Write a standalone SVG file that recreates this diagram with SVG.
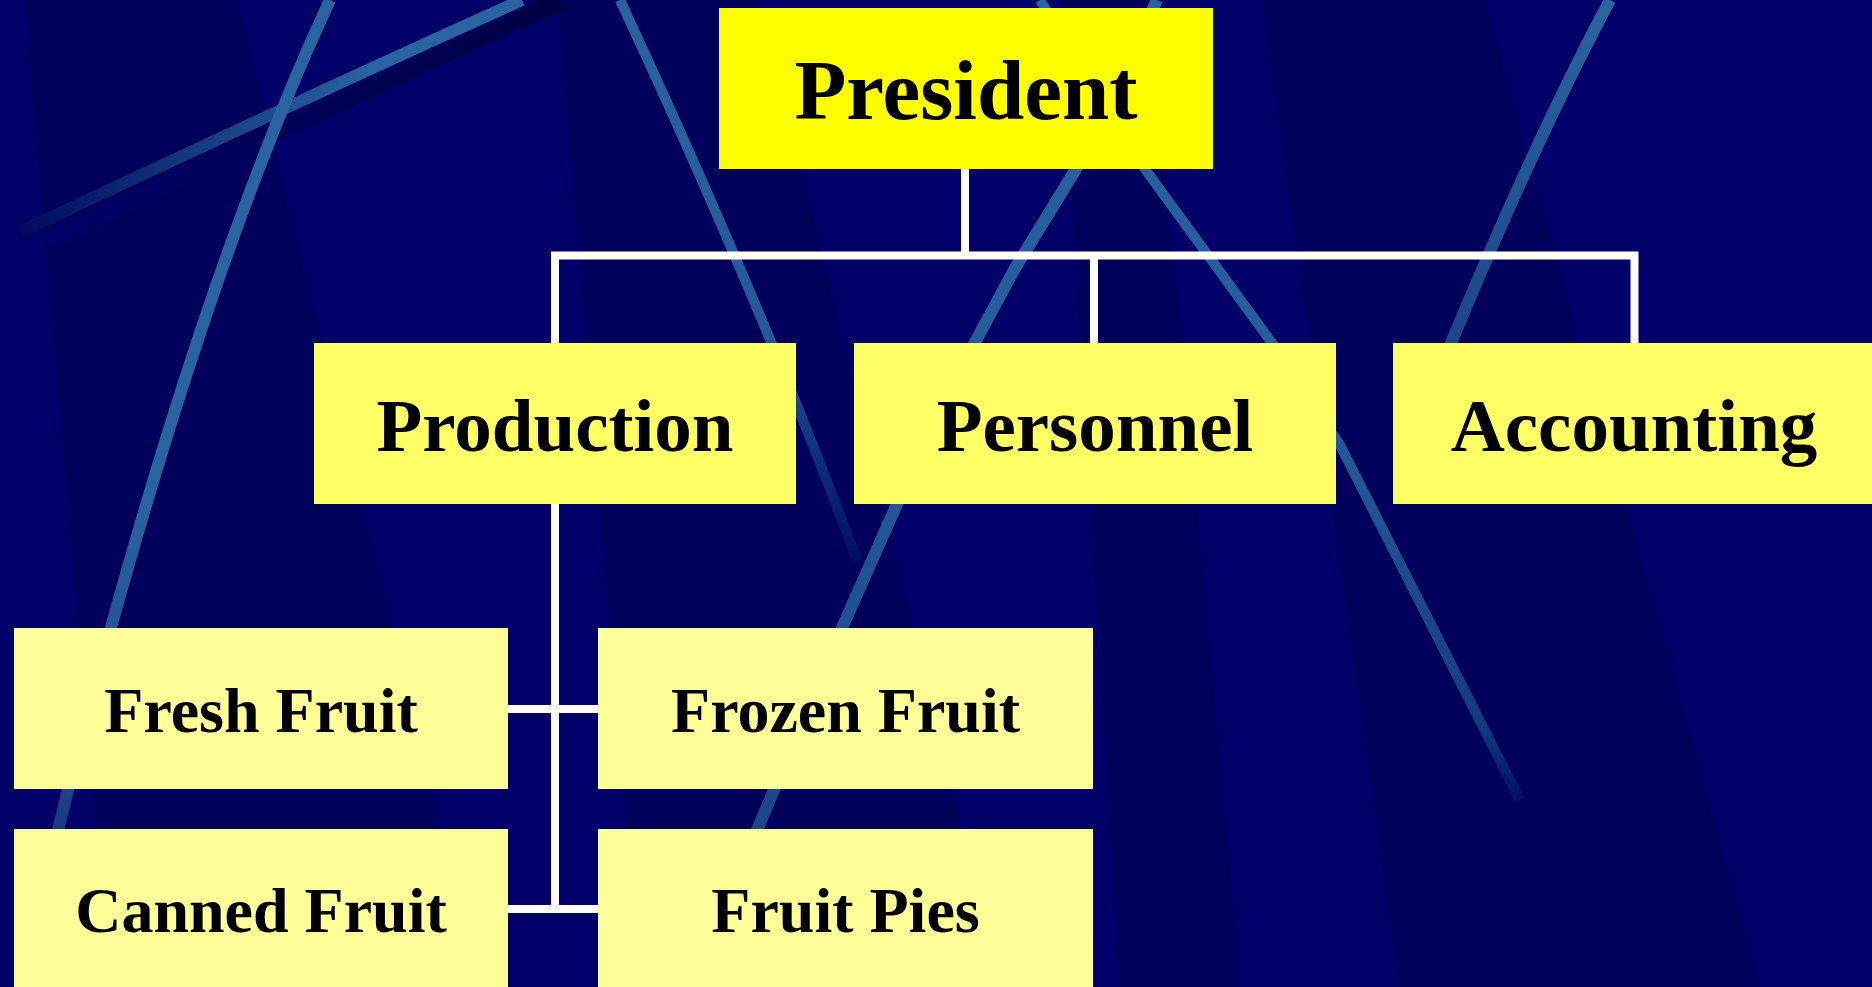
<svg xmlns="http://www.w3.org/2000/svg" width="1872" height="987" viewBox="0 0 1872 987">
<defs>
<style>
.bgline{fill:none;stroke-linecap:butt;stroke-linejoin:round}
.lbl{font-family:"Liberation Serif","Times New Roman",serif;font-weight:bold;fill:#000;text-anchor:middle}
.l1{font-size:85px}
.l2{font-size:75px}
.l3{font-size:64px}
.b1{fill:#ffff00}
.b2{fill:#ffff66}
.b3{fill:#ffff99}
.conn{fill:none;stroke:#ffffff;stroke-width:8;stroke-linecap:butt;stroke-linejoin:miter}
.panel{fill:#00004a;opacity:0.45}
</style>
<linearGradient id="gB" gradientUnits="userSpaceOnUse" x1="20" y1="0" x2="527" y2="0">
<stop offset="0" stop-color="#000a60"/>
<stop offset="0.35" stop-color="#163a7e"/>
<stop offset="0.7" stop-color="#2a64a0"/>
<stop offset="1" stop-color="#2a64a0"/>
</linearGradient>
<linearGradient id="gS" gradientUnits="userSpaceOnUse" x1="40" y1="0" x2="560" y2="0">
<stop offset="0" stop-color="#000068"/>
<stop offset="0.4" stop-color="#000058"/>
<stop offset="1" stop-color="#000044"/>
</linearGradient>
<linearGradient id="gA" gradientUnits="userSpaceOnUse" x1="0" y1="0" x2="0" y2="830">
<stop offset="0" stop-color="#2a64a0"/>
<stop offset="0.6" stop-color="#2a64a0"/>
<stop offset="1" stop-color="#1a3c80"/>
</linearGradient>
<linearGradient id="gC" gradientUnits="userSpaceOnUse" x1="0" y1="0" x2="0" y2="560">
<stop offset="0" stop-color="#2a64a0"/>
<stop offset="0.6" stop-color="#24589a"/>
<stop offset="1" stop-color="#000c66"/>
</linearGradient>
<linearGradient id="gD" gradientUnits="userSpaceOnUse" x1="0" y1="0" x2="0" y2="870">
<stop offset="0" stop-color="#2a64a0"/>
<stop offset="0.5" stop-color="#245a9a"/>
<stop offset="1" stop-color="#1a4486"/>
</linearGradient>
<linearGradient id="gE" gradientUnits="userSpaceOnUse" x1="0" y1="0" x2="0" y2="805">
<stop offset="0" stop-color="#2a64a0"/>
<stop offset="0.55" stop-color="#245a9a"/>
<stop offset="0.9" stop-color="#153a80"/>
<stop offset="1" stop-color="#000c66"/>
</linearGradient>
<linearGradient id="gF" gradientUnits="userSpaceOnUse" x1="0" y1="0" x2="0" y2="370">
<stop offset="0" stop-color="#2a64a0"/>
<stop offset="1" stop-color="#1a4486"/>
</linearGradient>
</defs>

<g id="background">
<rect x="0" y="0" width="1872" height="987" fill="#000068"/>
<polygon class="panel" points="25,0 237,0 480,987 110,987"/>
<polygon class="panel" points="558,0 760,0 1000,987 640,987"/>
<polygon class="panel" points="1262,0 1484,0 1760,987 1400,987"/>
<polygon class="panel" points="1060,0 1150,0 1240,987 1120,987"/>
<path class="bgline" d="M562,0 Q335,104 48,240" stroke="url(#gS)" stroke-width="18"/>
<path class="bgline" d="M522,0 Q300,100 20,232" stroke="url(#gB)" stroke-width="12"/>
<path class="bgline" d="M330,0 Q190,300 58,830" stroke="url(#gA)" stroke-width="12"/>
<path class="bgline" d="M620,0 Q760,300 857,560" stroke="url(#gC)" stroke-width="10"/>
<path class="bgline" d="M1157,0 L1076,169 L1014,270 L973,346 L897,504 L842,628 L766,809 L740,870" stroke="url(#gD)" stroke-width="12"/>
<path class="bgline" d="M1040,0 L1145,169 L1272,343 L1340,445 L1520,800" stroke="url(#gE)" stroke-width="10"/>
<path class="bgline" d="M1610,0 Q1530,150 1440,370" stroke="url(#gF)" stroke-width="12"/>
</g>

<g id="connectors">
<path class="conn" d="M965,169 V255.5"/>
<path class="conn" d="M555,343 V255.5 H1634.5 V343"/>
<path class="conn" d="M1094,255.5 V343"/>
<path class="conn" d="M555,504 V913"/>
<path class="conn" d="M508,709 H598"/>
<path class="conn" d="M508,909 H598"/>
</g>

<g id="president">
<rect class="b1" x="719" y="8" width="494" height="161"/>
<text class="lbl l1" x="966" y="119">President</text>
</g>
<g id="production">
<rect class="b2" x="314" y="343" width="482" height="161"/>
<text class="lbl l2" x="555" y="451">Production</text>
</g>
<g id="personnel">
<rect class="b2" x="854" y="343" width="482" height="161"/>
<text class="lbl l2" x="1095" y="451">Personnel</text>
</g>
<g id="accounting">
<rect class="b2" x="1393" y="343" width="482" height="161"/>
<text class="lbl l2" x="1634" y="451">Accounting</text>
</g>
<g id="fresh-fruit">
<rect class="b3" x="14" y="628" width="494" height="161"/>
<text class="lbl l3" x="261" y="732">Fresh Fruit</text>
</g>
<g id="frozen-fruit">
<rect class="b3" x="598" y="628" width="495" height="161"/>
<text class="lbl l3" x="845.5" y="732">Frozen Fruit</text>
</g>
<g id="canned-fruit">
<rect class="b3" x="14" y="829" width="494" height="170"/>
<text class="lbl l3" x="261" y="932">Canned Fruit</text>
</g>
<g id="fruit-pies">
<rect class="b3" x="598" y="829" width="495" height="170"/>
<text class="lbl l3" x="845.5" y="932">Fruit Pies</text>
</g>
</svg>
